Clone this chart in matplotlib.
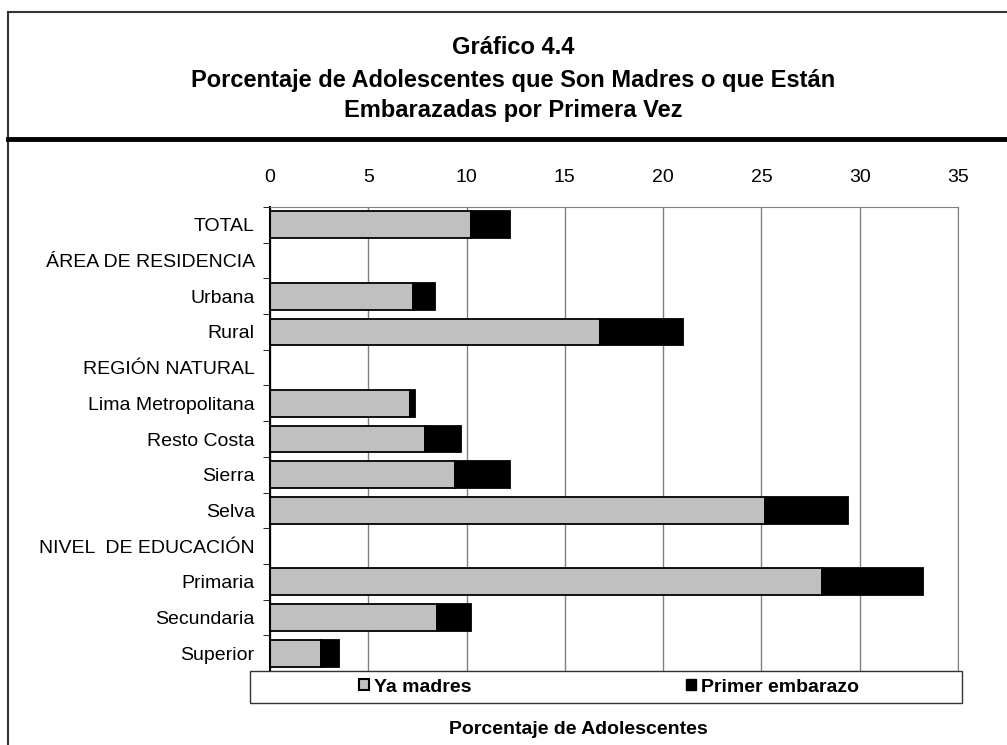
import numpy as np
import matplotlib
matplotlib.use("Agg")
import matplotlib.pyplot as plt
from matplotlib.patches import Patch, Rectangle
from matplotlib.lines import Line2D

plt.rcParams['font.family'] = ['Liberation Sans', 'DejaVu Sans']

categories = ["TOTAL", "ÁREA DE RESIDENCIA", "Urbana", "Rural", "REGIÓN NATURAL",
              "Lima Metropolitana", "Resto Costa", "Sierra", "Selva",
              "NIVEL  DE EDUCACIÓN", "Primaria", "Secundaria", "Superior"]
ya_madres = [10.2, np.nan, 7.3, 16.8, np.nan, 7.1, 7.9, 9.4, 25.2, np.nan, 28.1, 8.5, 2.6]
primer_embarazo = [2.0, np.nan, 1.1, 4.2, np.nan, 0.3, 1.8, 2.8, 4.2, np.nan, 5.1, 1.7, 0.9]
xticks = [0, 5, 10, 15, 20, 25, 30, 35]

W, H = 1007, 745
fig = plt.figure(figsize=(W / 100, H / 100), dpi=100)

def fx(px):
    return px / W

def fy(py):
    return 1 - py / H

# frame and header rule
fig.add_artist(Line2D([fx(8), 1], [fy(12), fy(12)], color="#333333", lw=1.5))
fig.add_artist(Line2D([fx(8), fx(8)], [fy(12), 0], color="#333333", lw=1.5))
fig.add_artist(Line2D([fx(8), 1], [fy(139), fy(139)], color="black", lw=3.5))

title_lines = ["Gráfico 4.4",
               "Porcentaje de Adolescentes que Son Madres o que Están",
               "Embarazadas por Primera Vez"]
for t, yy in zip(title_lines, [48, 80, 111]):
    fig.text(fx(513), fy(yy), t, ha="center", va="center",
             fontsize=17, fontweight="bold")

ax = fig.add_axes([fx(270), fy(671), fx(958) - fx(270), fy(207) - fy(671)])
y = np.arange(len(categories))
ax.barh(y, ya_madres, height=0.75, color="#c0c0c0", edgecolor="black", lw=1.3,
        label="Ya madres")
ax.barh(y, primer_embarazo, left=ya_madres, height=0.75, color="black",
        edgecolor="black", lw=1.3, label="Primer embarazo")

ax.set_xlim(0, 35)
ax.set_ylim(len(categories) - 0.5, -0.5)
ax.set_xticks(xticks)
ax.xaxis.tick_top()
ax.tick_params(axis="x", length=0, pad=15, labelsize=14)
ax.set_yticks(y)
ax.set_yticklabels(categories)
ax.tick_params(axis="y", length=0, pad=11, labelsize=14)
ax.set_yticks(np.arange(-0.5, len(categories), 1), minor=True)
ax.tick_params(axis="y", which="minor", length=5, color="black", direction="out")
ax.grid(axis="x", color="#808080", lw=1)
ax.set_axisbelow(True)
for s in ["top", "right", "bottom"]:
    ax.spines[s].set_color("#808080")
ax.spines["left"].set_color("black")
ax.spines["left"].set_linewidth(1.5)

# legend box
fig.add_artist(Rectangle((fx(250), fy(703)), fx(962) - fx(250), fy(671) - fy(703),
                         transform=fig.transFigure, fill=True, facecolor="white",
                         edgecolor="#333333", lw=1))
handles = [Patch(facecolor="#c0c0c0", edgecolor="black", lw=1.5),
           Patch(facecolor="black", edgecolor="black")]
fig.legend(handles, ["Ya madres", "Primer embarazo"], loc="center",
           bbox_to_anchor=(fx(609), fy(687)), ncol=2, frameon=False,
           prop={"weight": "bold", "size": 14}, handlelength=0.55, handleheight=0.55,
           handletextpad=0.25, columnspacing=11)

fig.text(fx(578), fy(730), "Porcentaje de Adolescentes", ha="center", va="center",
         fontsize=14, fontweight="bold")

fig.savefig("out.png", dpi=100)
